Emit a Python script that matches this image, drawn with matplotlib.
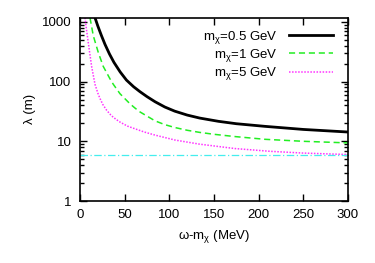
import numpy as np
import matplotlib
matplotlib.use("Agg")
import matplotlib.pyplot as plt
from matplotlib.ticker import LogLocator, NullFormatter, FixedLocator

plt.rcParams['font.family'] = ['Liberation Sans', 'DejaVu Sans']
plt.rcParams['mathtext.fontset'] = 'custom'
plt.rcParams['mathtext.rm'] = 'Liberation Sans'
plt.rcParams['mathtext.it'] = 'Liberation Sans'

# omega - m_chi (MeV) and decay length lambda (m)
w_05 = [16.8, 20, 24, 28, 33, 38, 45, 52, 60, 67, 75, 84, 95, 106, 120, 134, 155, 175, 207, 250, 300]
lam_05 = [1175, 850, 590, 420, 290, 210, 145, 106, 82, 68, 56, 46, 37.5, 32, 27.5, 24.5, 21.6, 19.7, 17.8, 15.8, 14.3]

w_1 = [11.2, 14.9, 20.5, 26, 33.6, 37.3, 44.8, 56, 61.6, 67.2, 84, 95, 106.3, 120, 134, 150, 173.5, 207, 250, 300]
lam_1 = [1175, 585, 307, 180, 111, 90, 62.6, 42.4, 36, 31, 22, 19, 17, 15.3, 14.1, 13.1, 12.0, 10.8, 10.0, 9.4]

w_5 = [5.6, 7, 8.2, 10.4, 13, 16.8, 20, 22.4, 25.7, 29.9, 35, 40, 44.8, 53, 61.6, 72, 84, 106.3, 134, 173.5, 212.7, 250, 300]
lam_5 = [1175, 800, 590, 340, 180, 90, 64, 52, 41, 33, 27, 23.5, 21, 18, 16.2, 14.3, 12.7, 10.5, 8.95, 7.56, 6.8, 6.35, 6.0]

w_ref = [0, 300]
lam_ref = [5.8, 5.8]

fig = plt.figure(figsize=(3.75, 2.63), dpi=100)
ax = fig.add_axes([0.2133, 0.2357, 0.7147, 0.6970])

ax.plot(w_05, lam_05, color='black', lw=2.0, label=r'm$_\chi$=0.5 GeV')
ax.plot(w_1, lam_1, color='#22ee22', lw=1.1, ls=(0, (4, 2.5)), label=r'm$_\chi$=1 GeV')
ax.plot(w_5, lam_5, color='#ff33ff', lw=1.1, ls=(0, (1, 1)), label=r'm$_\chi$=5 GeV')
ax.plot(w_ref, lam_ref, color='#44eeee', lw=0.9, ls=(0, (6, 2, 1, 2)))

ax.set_yscale('log')
ax.set_xlim(0, 300)
ax.set_ylim(1, 1175)
ax.xaxis.set_major_locator(FixedLocator([0, 50, 100, 150, 200, 250, 300]))
ax.yaxis.set_major_locator(FixedLocator([1, 10, 100, 1000]))
ax.set_yticklabels(['1', '10', '100', '1000'])
ax.yaxis.set_minor_locator(LogLocator(base=10, subs=np.arange(2, 10)))
ax.yaxis.set_minor_formatter(NullFormatter())

ax.tick_params(which='both', direction='in', top=True, right=True, labelsize=9.5, width=1)
ax.tick_params(which='major', length=5, pad=6)
ax.tick_params(which='minor', length=3)
for s in ax.spines.values():
    s.set_linewidth(1.2)

ax.set_xlabel(r'ω-m$_\chi$ (MeV)', fontsize=9.5, labelpad=5)
ax.set_ylabel(r'λ (m)', fontsize=9.5, labelpad=4)

ax.legend(loc='upper right', markerfirst=False, frameon=False, fontsize=9.5,
          handlelength=3.4, handletextpad=0.8, labelspacing=0.1,
          borderaxespad=0.3, bbox_to_anchor=(0.98, 0.99))

fig.savefig('out.png', dpi=100)
